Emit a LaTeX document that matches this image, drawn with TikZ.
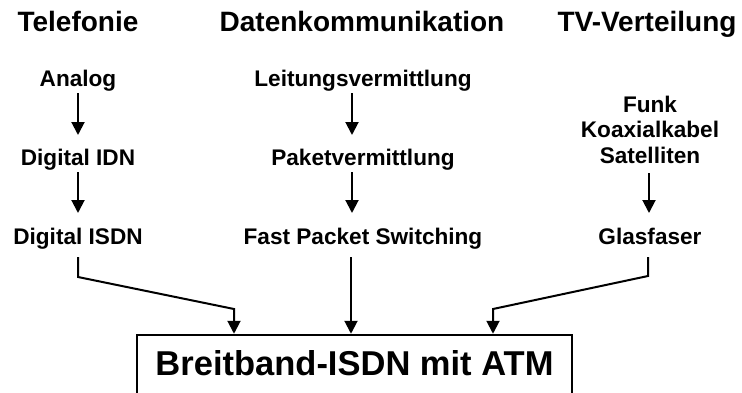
\documentclass[tikz,border=0pt]{standalone}
\usepackage{fontspec}
\setmainfont{Liberation Sans}
\usetikzlibrary{arrows.meta}
\tikzset{
  head/.style={font=\bfseries\fontsize{28}{30}\selectfont, anchor=base, inner sep=0pt},
  item/.style={font=\bfseries\fontsize{22.6}{25.5}\selectfont, anchor=base, inner sep=0pt},
  arr/.style={line width=2pt, -{Triangle[width=13pt,length=13pt]}},
  bigbox/.style={draw, line width=2.5pt, inner sep=0pt, minimum width=435pt, minimum height=70pt,
    text height=24pt, text depth=14pt, font=\bfseries\fontsize{34.5}{36}\selectfont},
}
\begin{document}
\begin{tikzpicture}[x=1pt,y=1pt]
\useasboundingbox (0,0) rectangle (742,392);
\clip (0,0) rectangle (742,392);

% column headings
\node[head] (hTel) at (78,360) {Telefonie};
\node[head] (hDat) at (362,360) {Datenkommunikation};
\node[head] (hTV)  at (647,360) {TV-Verteilung};

% Telefonie
\node[item] (a1) at (78,306) {Analog};
\node[item] (a2) at (78,227) {Digital IDN};
\node[item] (a3) at (78,148) {Digital ISDN};

% Datenkommunikation
\node[item] (b1) at (363,306) {Leitungsvermittlung};
\node[item] (b2) at (363,227) {Paketvermittlung};
\node[item] (b3) at (363,148) {Fast Packet Switching};

% TV-Verteilung (base anchor sits on the last line)
\node[item, align=center] (c1) at (650,229) {Funk\\Koaxialkabel\\Satelliten};
\node[item] (c2) at (650,148) {Glasfaser};

% target system
\node[bigbox] (isdn) at (354.5,22) {Breitband-ISDN mit ATM};

% evolution arrows
\draw[arr] ([yshift=-7pt]a1.base) -- ([yshift=30pt]a2.base);
\draw[arr] ([yshift=-7pt]a2.base) -- ([yshift=31pt]a3.base);
\draw[arr] ([shift={(-11pt,-7pt)}]b1.base) -- ([shift={(-11pt,30pt)}]b2.base);
\draw[arr] ([shift={(-11pt,-7pt)}]b2.base) -- ([shift={(-11pt,31pt)}]b3.base);
\draw[arr] ([shift={(-1pt,-10pt)}]c1.base) -- ([shift={(-1pt,31pt)}]c2.base);

% bends of the side connectors
\coordinate (lk) at (78,115);
\coordinate (ld) at (234,83);
\coordinate (rk) at (648,116);
\coordinate (rd) at (493,83);

% connectors into the ISDN box
\draw[arr] ([yshift=-13pt]a3.base) -- (lk) -- (ld) -- (ld |- isdn.north);
\draw[arr] ([shift={(-12pt,-13pt)}]b3.base) -- ([xshift=-3.5pt]isdn.north);
\draw[arr] ([shift={(-2pt,-13pt)}]c2.base) -- (rk) -- (rd) -- (rd |- isdn.north);
\end{tikzpicture}
\end{document}
